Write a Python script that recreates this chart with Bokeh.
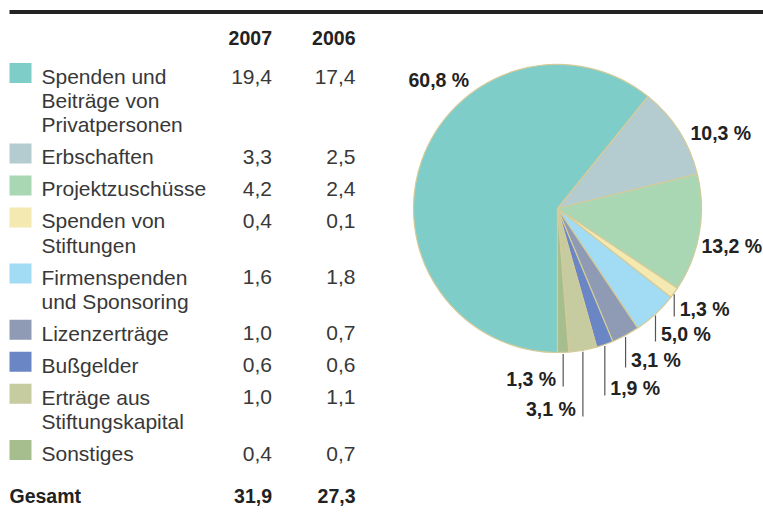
import math
from bokeh.plotting import figure
from bokeh.models import Range1d
from bokeh.core.properties import value
from bokeh.embed import file_html
from bokeh.resources import INLINE

# ---------------- data ----------------
categories = [
    "Spenden und\nBeiträge von\nPrivatpersonen",
    "Erbschaften",
    "Projektzuschüsse",
    "Spenden von\nStiftungen",
    "Firmenspenden\nund Sponsoring",
    "Lizenzerträge",
    "Bußgelder",
    "Erträge aus\nStiftungskapital",
    "Sonstiges",
]
values_2007 = [19.4, 3.3, 4.2, 0.4, 1.6, 1.0, 0.6, 1.0, 0.4]
values_2006 = [17.4, 2.5, 2.4, 0.1, 1.8, 0.7, 0.6, 1.1, 0.7]
years = ["2007", "2006"]
total_label = "Gesamt"
colors = ["#7ecdc8", "#b4cbd0", "#a9d7b4", "#f4e9b0", "#a2dcf4",
          "#8f9bb4", "#6a86c4", "#c7cba0", "#a6be8e"]

# ---------------- helpers / layout ----------------
W, H = 763, 513
K = 0.38  # baseline correction factor for text rendering


def Y(py):
    return H - py


def TY(baseline, size):
    return Y(baseline - K * size)


def de(v):
    return f"{v:.1f}".replace(".", ",")


REG = value("Liberation Sans")
BOLD = value("Liberation Sans")
TXT = "#383838"
DARK = "#222222"
RS, BS = 21, 19.5

p = figure(width=W, height=H, x_range=Range1d(0, W), y_range=Range1d(0, H),
           output_backend="svg", toolbar_location=None, min_border=0,
           x_axis_type=None, y_axis_type=None)
p.grid.visible = False
p.outline_line_color = None
p.background_fill_color = "white"
p.border_fill_color = "white"

# top rule
p.segment(x0=[9], y0=[Y(11.5)], x1=[763], y1=[Y(11.5)], line_width=4, line_color="#232323")

COL1, COL2 = 271.5, 355
p.text(x=[COL1, COL2], y=[TY(45, BS)] * 2, text=years, text_align="right",
       text_baseline="alphabetic", text_font=BOLD, text_font_style="bold",
       text_font_size=f"{BS}px", text_color=DARK)

# table rows
LINE_H, ROW_GAP = 24.2, 32
b = 84.0
sq_l, sq_r, sq_t, sq_b = [], [], [], []
tx, ty, tt = [], [], []
vx, vy, vt = [], [], []
for cat, v7, v6 in zip(categories, values_2007, values_2006):
    lines = cat.split("\n")
    sq_l.append(9); sq_r.append(31)
    sq_t.append(Y(b - 21.5)); sq_b.append(Y(b - 1.5))
    for i, ln in enumerate(lines):
        tx.append(41); ty.append(TY(b + i * LINE_H, RS)); tt.append(ln)
    vx += [COL1, COL2]; vy += [TY(b, RS)] * 2; vt += [de(v7), de(v6)]
    b += (len(lines) - 1) * LINE_H + ROW_GAP

p.quad(left=sq_l, right=sq_r, top=sq_t, bottom=sq_b, fill_color=colors, line_color=None)
p.text(x=tx, y=ty, text=tt, text_align="left", text_baseline="alphabetic",
       text_font=REG, text_font_size=f"{RS}px", text_color=TXT)
p.text(x=vx, y=vy, text=vt, text_align="right", text_baseline="alphabetic",
       text_font=REG, text_font_size=f"{RS}px", text_color=TXT)

# total row
gb = b + 10
tot7, tot6 = sum(values_2007), sum(values_2006)
p.text(x=[9], y=[TY(gb, BS)], text=[total_label], text_align="left", text_baseline="alphabetic",
       text_font=BOLD, text_font_style="bold", text_font_size=f"{BS}px", text_color=DARK)
p.text(x=[COL1, COL2], y=[TY(gb, BS)] * 2, text=[de(tot7), de(tot6)], text_align="right",
       text_baseline="alphabetic", text_font=BOLD, text_font_style="bold",
       text_font_size=f"{BS}px", text_color=DARK)

# ---------------- pie ----------------
CX, CY, R = 557, 208, 144
fr = [v / tot7 for v in values_2007]
cum = [0.0]
for f in fr:
    cum.append(cum[-1] + f)
starts = [-math.pi / 2 - 2 * math.pi * cum[i + 1] for i in range(len(fr))]
ends = [-math.pi / 2 - 2 * math.pi * cum[i] for i in range(len(fr))]
p.wedge(x=CX, y=Y(CY), radius=R, start_angle=starts, end_angle=ends,
        fill_color=colors, line_color="#d3cb9a", line_width=1.2)

pct = [de(f * 100) + " %" for f in fr]

big_pos = {0: (408, 87), 1: (690, 140), 2: (701, 253)}
small_pos = {3: (316, "r"), 4: (341, "r"), 5: (367, "r"), 6: (395, "r"),
             7: (416, "l"), 8: (386, "l")}

lx, ly, lt, la = [], [], [], []
for i, (px_, py_) in big_pos.items():
    lx.append(px_); ly.append(TY(py_, BS)); lt.append(pct[i]); la.append("left")

x0s, y0s, x1s, y1s = [], [], [], []
for i, (base, side) in small_pos.items():
    th = 2 * math.pi * (cum[i] + cum[i + 1]) / 2
    ex = CX - R * math.sin(th)
    ey = CY + R * math.cos(th) + 1.5
    x0s.append(ex); y0s.append(Y(ey)); x1s.append(ex); y1s.append(Y(base))
    if side == "r":
        lx.append(ex + 5.5); la.append("left")
    else:
        lx.append(ex - 7); la.append("right")
    ly.append(TY(base, BS)); lt.append(pct[i])

p.segment(x0=x0s, y0=y0s, x1=x1s, y1=y1s, line_color="#555555", line_width=1.2)
p.text(x=lx, y=ly, text=lt, text_align=la, text_baseline="alphabetic",
       text_font=BOLD, text_font_style="bold", text_font_size=f"{BS}px", text_color=DARK)

open("out.html", "w").write(file_html(p, INLINE))
